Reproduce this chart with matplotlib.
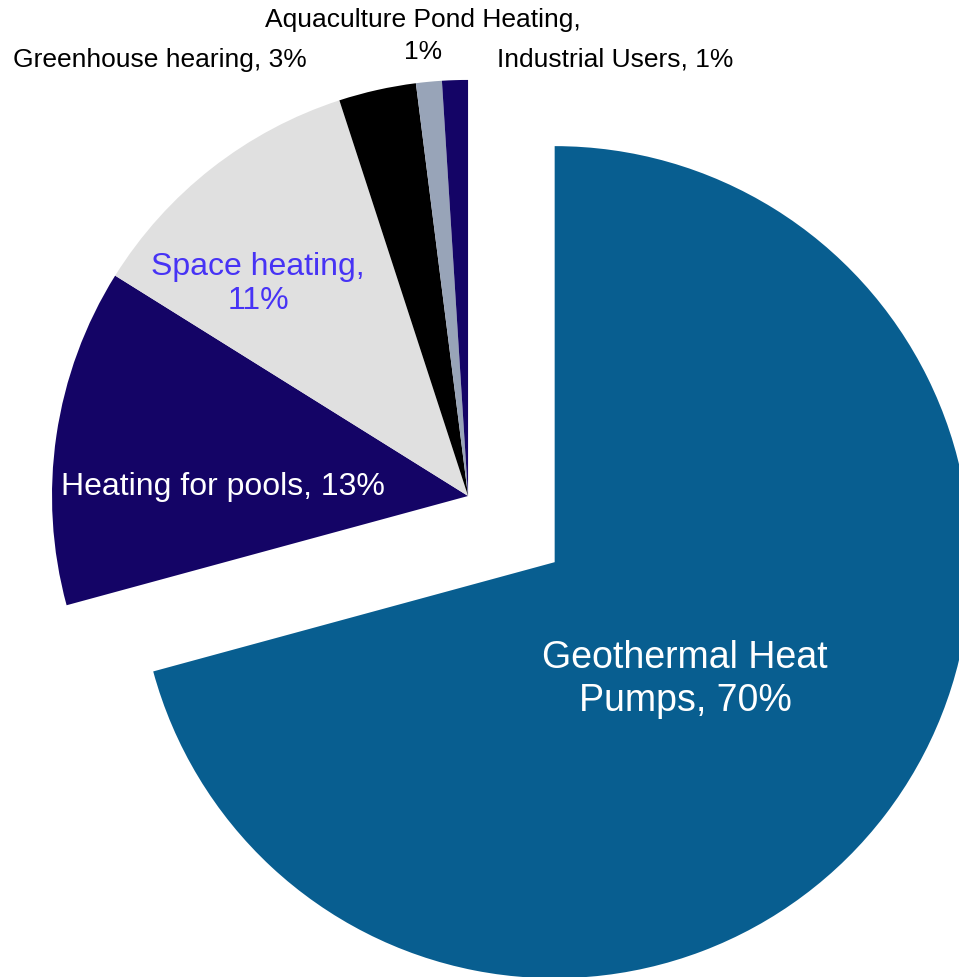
import matplotlib.pyplot as plt

plt.rcParams['font.family'] = ['Liberation Sans', 'DejaVu Sans']

# data (shares)
names = ['Geothermal Heat Pumps', 'Heating for pools', 'Space heating',
         'Greenhouse hearing', 'Aquaculture Pond Heating', 'Industrial Users']
shares = [70.7, 13.1, 11.1, 3.0, 1.0, 1.0]
label_texts = ['Geothermal Heat\nPumps, 70%', 'Heating for pools, 13%',
               'Space heating,\n11%', 'Greenhouse hearing, 3%',
               'Aquaculture Pond Heating,', 'Industrial Users, 1%']
aqua_pct = '1%'

colors = ['#085E90', '#140466', '#E0E0E0', '#000000', '#98A4B8', '#140466']
explode = [0.262, 0, 0, 0, 0, 0]

fig = plt.figure(figsize=(9.59, 9.77), dpi=100)
ax = fig.add_axes([0, 0, 1, 1])

wedges, _ = ax.pie(shares, colors=colors, explode=explode, startangle=90,
                   counterclock=False, radius=1.0,
                   wedgeprops={'linewidth': 0})

# label placement (data units, pie radius = 1)
label_pos = [(0.522, -0.440), (-0.589, 0.022), (-0.505, 0.510),
             (-0.740, 1.048), (-0.108, 1.144), (0.353, 1.048)]
label_color = ['white', 'white', '#4733F5', 'black', 'black', 'black']
label_size = [27, 23, 23, 19, 19, 19]
label_ls = [1.25, 1.1, 1.17, 1.2, 1.2, 1.2]

for t, (x, y), c, s, ls in zip(label_texts, label_pos, label_color, label_size, label_ls):
    ax.text(x, y, t, color=c, fontsize=s, ha='center', va='center',
            multialignment='center', linespacing=ls)
# second line of the aquaculture label
ax.text(-0.108, 1.067, aqua_pct, color='black', fontsize=19, ha='center', va='center')

ax.set_xlim(-1.125, 1.180)
ax.set_ylim(-1.156, 1.192)
ax.set_aspect('equal')
ax.axis('off')

fig.savefig('out.png', dpi=100)
